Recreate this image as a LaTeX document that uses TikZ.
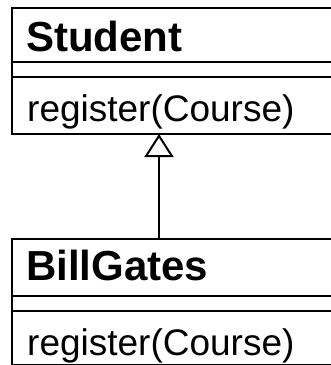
\documentclass[tikz,border=0pt]{standalone}
\usepackage{fontspec}
\setmainfont{Liberation Sans}
\usetikzlibrary{arrows.meta}
\begin{document}
\begin{tikzpicture}[x=1pt,y=-1pt,
  frame/.style={draw=black,line width=2pt},
  cname/.style={anchor=base west,inner sep=0pt,font=\fontsize{42}{42}\selectfont\bfseries},
  cop/.style={anchor=base west,inner sep=0pt,font=\fontsize{37}{37}\selectfont},
  inherit/.style={line width=2pt,-{Triangle[open,length=23pt,width=29pt,line width=2pt]}}]
\useasboundingbox (0,0) rectangle (331,365);
\clip (0,0) rectangle (331,365);
% Student class
\draw[frame] (11.5,8) rectangle (345,134);
\draw[frame] (11.5,62) -- (345,62);
\draw[frame] (11.5,77) -- (345,77);
\node[cname] (sname) at (26,51) {Student};
\node[cop] (sop) at (27,121) {register(Course)};
% BillGates class
\draw[frame] (11.5,239) rectangle (345,365.4);
\draw[frame] (11.5,296) -- (345,296);
\draw[frame] (11.5,311) -- (345,311);
\node[cname] (bname) at (26,280) {BillGates};
\node[cop] (bop) at (27,355) {register(Course)};
% generalization
\coordinate (sbottom) at (159,134);
\coordinate (btop) at (159,239);
\draw[inherit] (btop) -- (sbottom);
\end{tikzpicture}
\end{document}
